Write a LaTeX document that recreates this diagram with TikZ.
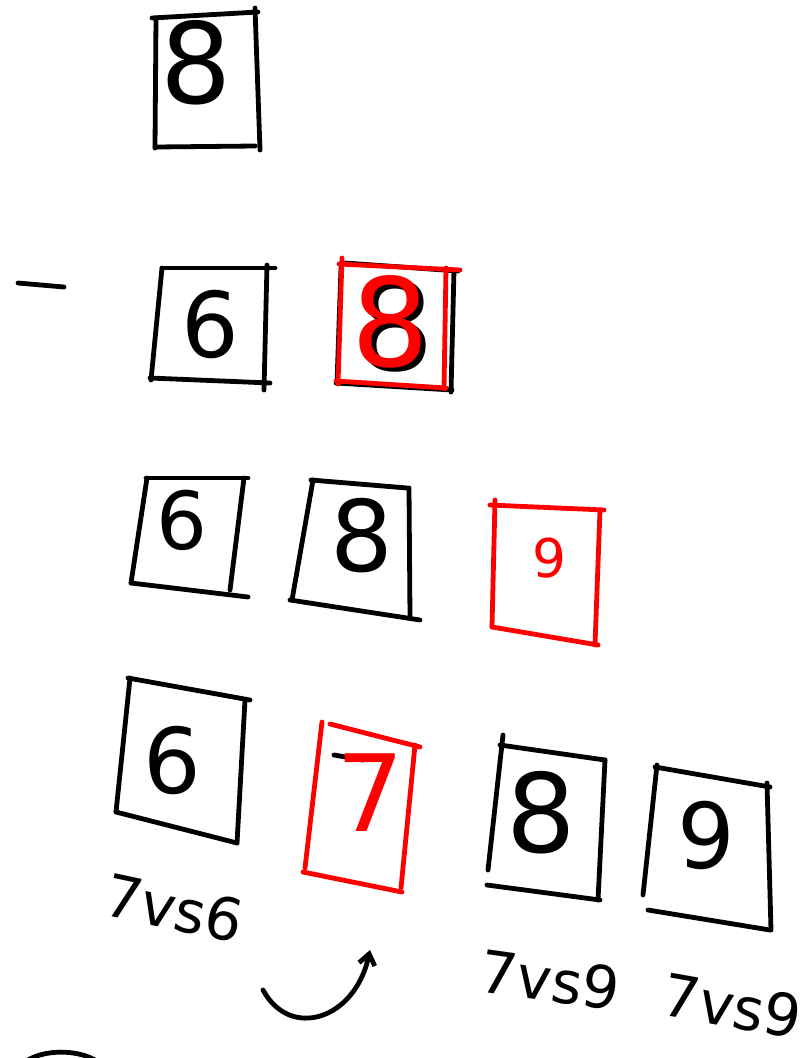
\documentclass[tikz,border=0pt]{standalone}
\usepackage{fontspec}
\setmainfont{DejaVu Sans}
\usetikzlibrary{arrows.meta}
\begin{document}
\begin{tikzpicture}[x=0.75pt,y=-0.75pt,
  ink/.style={line width=3.6pt,line cap=round,line join=round,draw=black},
  redink/.style={line width=3.6pt,line cap=round,line join=round,draw=red},
  digit/.style={inner sep=0pt,font=\fontsize{#1}{#1}\selectfont},
  digit/.default=72,
  lbl/.style={inner sep=0pt,font=\fontsize{44}{44}\selectfont}]
\useasboundingbox (0,0) rectangle (808,1058);

% row 1: 8
\draw[ink] (156,18)--(155,148);
\draw[ink] (152,18)--(258,12);
\draw[ink] (255,8)--(260,150);
\draw[ink] (155,147)--(255,146);
\node[digit=84] (r1d8) at (196,63) {8};

% row 2
\draw[ink] (18,283)--(64,287);
\draw[ink] (162,268)--(151,380);
\draw[ink] (162,268)--(275,268);
\draw[ink] (267,265)--(264,390);
\draw[ink] (150,378)--(270,383);
\node[digit=68] (r2d6) at (210,324) {6};
% black box behind red
\draw[ink] (341,268)--(337,383);
\draw[ink] (345,263)--(458,271);
\draw[ink] (454,270)--(451,392);
\draw[ink] (336,383)--(452,390);
\node[digit=92,text=black] (r2d8b) at (396,326) {8};
% red box
\draw[redink] (342,258)--(338,384);
\draw[redink] (339,264)--(460,270);
\draw[redink] (446,268)--(444,389);
\draw[redink] (336,381)--(446,388);
\node[digit=92,text=red] (r2d8) at (391,322) {8};

% row 3
\draw[ink] (147,478)--(131,583);
\draw[ink] (146,478)--(248,478);
\draw[ink] (244,478)--(230,590);
\draw[ink] (131,583)--(248,597);
\node[digit=60] (r3d6) at (182,520) {6};
\draw[ink] (313,480)--(292,600);
\draw[ink] (311,480)--(407,488);
\draw[ink] (409,488)--(410,617);
\draw[ink] (290,600)--(420,620);
\node[digit=74] (r3d8) at (362,536) {8};
\draw[redink] (495,500)--(492,627);
\draw[redink] (490,505)--(604,510);
\draw[redink] (600,510)--(595,645);
\draw[redink] (492,627)--(598,645);
\node[digit=40,text=red] (r3d9) at (549,558) {9};

% row 4
\draw[ink] (130,678)--(116,812);
\draw[ink] (128,678)--(250,700);
\draw[ink] (245,700)--(237,843);
\draw[ink] (116,812)--(237,843);
\node[digit=68] (r4d6) at (172,760) {6};
% red 7 box
\draw[ink] (334,755)--(363,760);
\draw[redink] (322,722)--(305,868);
\draw[redink] (330,724)--(420,747);
\draw[redink] (415,745)--(401,888);
\draw[redink] (303,872)--(402,892);
\node[digit=80,text=red] (r4d7) at (370,793) {7};
\draw[ink] (503,735)--(488,870);
\draw[ink] (500,745)--(605,760);
\draw[ink] (605,760)--(598,900);
\draw[ink] (487,885)--(600,900);
\node[digit=82] (r4d8) at (541,813) {8};
\draw[ink] (657,765)--(643,895);
\draw[ink] (655,767)--(770,787);
\draw[ink] (767,783)--(771,930);
\draw[ink] (648,910)--(770,930);
\node[digit=68] (r4d9) at (706,835) {9};

% labels
\node[lbl,rotate=-12] (l76) at (174,908) {7vs6};
\node[lbl,rotate=-8] (l79a) at (550,980) {7vs9};
\node[lbl,rotate=-10] (l79b) at (732,1006) {7vs9};

% curved arrow
\coordinate (as) at (263,990);
\coordinate (ae) at (370,950);
\draw[ink,-{Straight Barb[length=8pt,width=12pt]}] (as) .. controls (290,1040) and (355,1020) .. (ae);

% partial arc at bottom-left
\draw[ink] (28,1060) .. controls (45,1050) and (75,1049) .. (95,1060);
\end{tikzpicture}
\end{document}
